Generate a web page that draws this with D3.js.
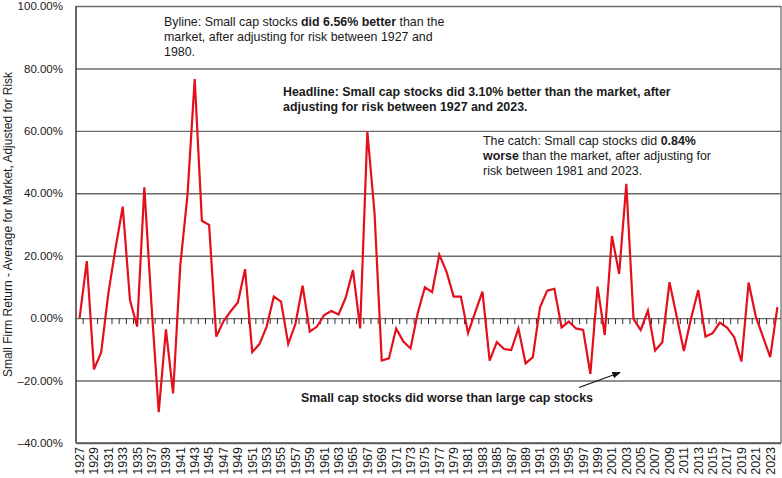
<!DOCTYPE html>
<html>
<head>
<meta charset="utf-8">
<script src="https://cdnjs.cloudflare.com/ajax/libs/d3/7.8.5/d3.min.js"></script>
<style>
  body { margin: 0; background: #fff; }
  svg { display: block; font-family: "Liberation Sans", Arial, Helvetica, sans-serif; }
  .axis text { fill: #1a1a1a; }
  .nota { font-size: 12.4px; fill: #1a1a1a; }
  .nota .b { font-weight: bold; }
</style>
</head>
<body>
<div id="graf"></div>
<script>
// Datos: rendimiento de small caps menos el mercado, ajustado por riesgo (%)
const anioInicial = 1927
const anioFinal = 2024
const valores = [
  0, 18.3, -16.4, -11.0, 8.0, 22.5, 35.7, 5.8, -2.7, 41.9,
  4.0, -30.1, -3.6, -24.1, 17.0, 39.5, 76.6, 31.2, 29.9, -5.9,
  -1.0, 2.2, 5.0, 15.7, -10.9, -8.3, -2.7, 6.9, 5.3, -8.3,
  -1.9, 10.4, -4.3, -2.7, 1.0, 2.3, 1.2, 6.6, 15.4, -3.3,
  59.8, 33.6, -13.6, -12.9, -3.3, -7.5, -9.7, 1.6, 9.9, 8.3,
  20.3, 14.9, 6.9, 6.9, -4.8, 1.9, 8.5, -13.6, -7.7, -9.9,
  -10.2, -3.3, -14.5, -12.5, 3.5, 8.8, 9.4, -3.0, -1.1, -3.3,
  -3.8, -17.9, 10.1, -5.4, 26.3, 14.2, 43.0, -0.3, -3.8, 2.4,
  -10.4, -7.7, 11.5, 0.5, -10.5, 0.0, 9.0, -5.9, -4.8, -1.4,
  -3.0, -6.1, -13.9, 11.4, 0.5, -6.0, -12.5, 3.5
]
const anios = d3.range(anioInicial, anioFinal + 1)
const etiquetasX = anios.filter((d) => (d - anioInicial) % 2 === 0 && d <= 2023)
const ticksY = [-40, -20, 0, 20, 40, 60, 80, 100]

const tituloY = "Small Firm Return - Average for Market, Adjusted for Risk"

const draw = async (el = "#graf") => {
  const graf = d3.select(el)

  const dataset = anios.map((anio, i) => ({ anio, valor: valores[i] }))

  // Dimensiones
  const anchoTotal = 782
  const altoTotal = 478
  const margins = { top: 6, right: 1, bottom: 35, left: 76 }
  const ancho = anchoTotal - margins.left - margins.right
  const alto = altoTotal - margins.top - margins.bottom

  // Accessors
  const xAccessor = (d) => d.anio
  const yAccessor = (d) => d.valor

  // Escaladores
  const x = d3.scaleBand().domain(anios).range([0, ancho]).padding(0)
  const y = d3.scaleLinear().domain([-40, 100]).range([alto, 0])
  const mitad = x.bandwidth() / 2

  const svg = graf
    .append("svg")
    .attr("width", anchoTotal)
    .attr("height", altoTotal)

  const chart = svg
    .append("g")
    .attr("transform", `translate(${margins.left}, ${margins.top})`)

  // Formato de ejes
  const FormatY = (d) => (d < 0 ? "\u2013" : "") + Math.abs(d).toFixed(2) + "%"

  // Rejilla y eje Y
  const yAxis = d3.axisLeft(y)
    .tickValues(ticksY)
    .tickSize(-ancho)
    .tickPadding(13)
    .tickFormat(FormatY)

  const yAxisGroup = chart.append("g").classed("axis", true).call(yAxis)
  yAxisGroup.select(".domain").remove()
  yAxisGroup.selectAll(".tick line")
    .attr("stroke", "#6b6b6b")
    .attr("stroke-width", 1.4)
  yAxisGroup.selectAll(".tick text")
    .attr("font-size", 11.5)
    .attr("font-family", "Liberation Sans, Arial, sans-serif")

  // Marco: eje izquierdo, base y borde derecho
  chart.append("line")
    .attr("x1", 0).attr("x2", 0)
    .attr("y1", y(100)).attr("y2", y(-40))
    .attr("stroke", "#444").attr("stroke-width", 1.6)
  chart.append("line")
    .attr("x1", 0).attr("x2", ancho)
    .attr("y1", y(-40)).attr("y2", y(-40))
    .attr("stroke", "#555").attr("stroke-width", 1.6)
  chart.append("line")
    .attr("x1", ancho).attr("x2", ancho)
    .attr("y1", y(100)).attr("y2", y(-40))
    .attr("stroke", "#444").attr("stroke-width", 1)

  // Marcas en la línea de cero, entre categorías
  chart.append("g")
    .selectAll("line")
    .data(anios.slice(1))
    .join("line")
    .attr("x1", (d) => x(d))
    .attr("x2", (d) => x(d))
    .attr("y1", y(0))
    .attr("y2", y(0) + 6)
    .attr("stroke", "#333")
    .attr("stroke-width", 1)

  // Eje X con etiquetas verticales
  const xAxis = d3.axisBottom(x)
    .tickValues(etiquetasX)
    .tickSize(0)
    .tickFormat((d) => d)

  const xAxisGroup = chart.append("g")
    .classed("axis", true)
    .attr("transform", `translate(0, ${alto})`)
    .call(xAxis)
  xAxisGroup.select(".domain").remove()
  xAxisGroup.selectAll(".tick text")
    .attr("font-size", 12.5)
    .attr("transform", "rotate(-90)")
    .attr("text-anchor", "end")
    .attr("x", -4)
    .attr("y", 0)
    .attr("dy", "0.35em")

  // Título eje Y
  svg.append("text")
    .attr("transform", `translate(12, ${margins.top + alto / 2}) rotate(-90)`)
    .attr("text-anchor", "middle")
    .attr("font-size", 12)
    .attr("fill", "#1a1a1a")
    .text(tituloY)

  // Línea de datos
  chart.append("path")
    .datum(dataset)
    .attr("fill", "none")
    .attr("stroke", "#e3101c")
    .attr("stroke-width", 2.2)
    .attr("stroke-linejoin", "miter")
    .attr("d", d3.line()
      .x((d) => x(xAccessor(d)) + mitad)
      .y((d) => y(yAccessor(d)))
    )

  // Notas
  const nota = (xp, yp, lineas) => {
    const t = svg.append("text").classed("nota", true)
    lineas.forEach((partes, i) => {
      partes.forEach((p, j) => {
        const ts = t.append("tspan").text(p.t)
        if (j === 0) ts.attr("x", xp).attr("y", yp + i * 15)
        if (p.b) ts.classed("b", true)
      })
    })
    return t
  }

  nota(164, 26, [
    [{ t: "Byline: Small cap stocks " }, { t: "did 6.56% better", b: true }, { t: " than the" }],
    [{ t: "market, after adjusting for risk between 1927 and" }],
    [{ t: "1980." }]
  ])

  nota(283, 96, [
    [{ t: "Headline: Small cap stocks did 3.10% better than the market, after", b: true }],
    [{ t: "adjusting for risk between 1927 and 2023.", b: true }]
  ])

  nota(483, 144.5, [
    [{ t: "The catch: Small cap stocks did " }, { t: "0.84%", b: true }],
    [{ t: "worse", b: true }, { t: " than the market, after adjusting for" }],
    [{ t: "risk between 1981 and 2023." }]
  ])

  nota(301, 402, [
    [{ t: "Small cap stocks did worse than large cap stocks", b: true }]
  ])

  // Flecha
  svg.append("defs").append("marker")
    .attr("id", "punta")
    .attr("viewBox", "0 0 10 10")
    .attr("refX", 9).attr("refY", 5)
    .attr("markerWidth", 7).attr("markerHeight", 7)
    .attr("orient", "auto")
    .append("path")
    .attr("d", "M0,1 L10,5 L0,9 Z")
    .attr("fill", "#111")

  svg.append("line")
    .attr("x1", 579).attr("y1", 387.5)
    .attr("x2", 620).attr("y2", 372.5)
    .attr("stroke", "#111")
    .attr("stroke-width", 1.2)
    .attr("marker-end", "url(#punta)")
}

draw()
</script>
</body>
</html>
